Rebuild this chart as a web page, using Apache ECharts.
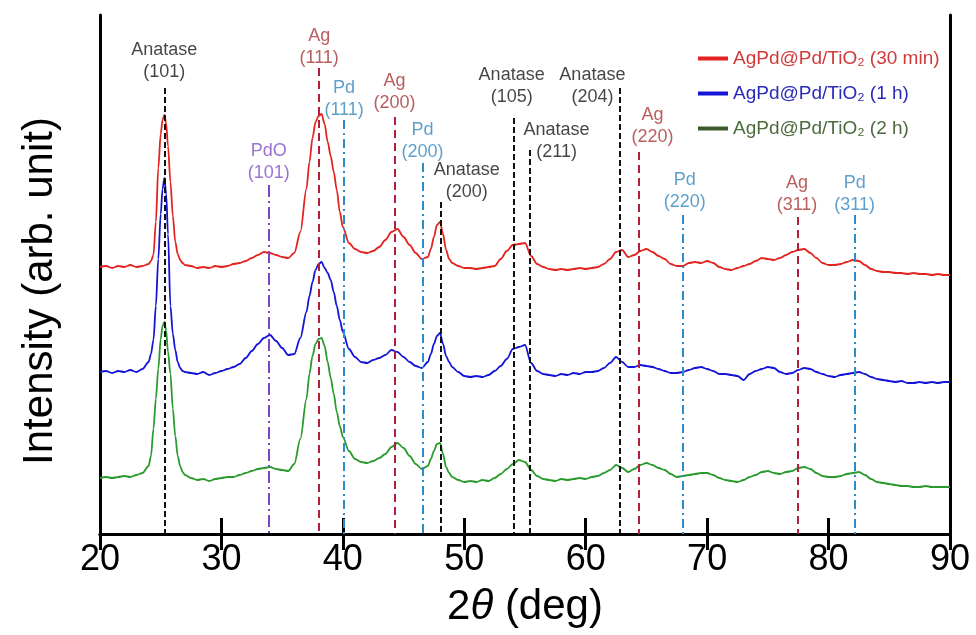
<!DOCTYPE html>
<html>
<head>
<meta charset="utf-8">
<title>XRD</title>
<script src="https://cdn.jsdelivr.net/npm/echarts@6/dist/echarts.min.js"></script>
<style>
  html, body { margin: 0; padding: 0; background: #fff; }
  #main { width: 976px; height: 635px; }
</style>
</head>
<body>
<div id="main"></div>
<script>
// 2theta grid (deg), finer around the big peaks
var twoTheta = [
    20, 20.5, 21, 21.5, 22, 22.5, 23, 23.5, 24,
    24.2, 24.4, 24.6, 24.8, 25, 25.15, 25.3, 25.45, 25.6, 25.8, 26, 26.2, 26.4, 26.6, 26.8,
    27, 27.5, 28, 28.5, 29, 29.5, 30, 30.5, 31, 31.5, 32, 32.5, 33, 33.5, 34, 34.5, 35, 35.5, 36, 36.5,
    37, 37.25, 37.5, 37.75, 38, 38.25, 38.5, 38.75, 39, 39.25, 39.5, 39.75, 40,
    40.5, 41, 41.5, 42, 42.5, 43, 43.5, 44, 44.5, 45, 45.5, 46, 46.5, 47,
    47.25, 47.5, 47.75, 48, 48.25, 48.5, 48.75,
    49, 49.5, 50, 50.5, 51, 51.5, 52, 52.5, 53, 53.5,
    54, 54.5, 55, 55.5, 56, 56.5, 57, 57.5, 58, 58.5,
    59, 59.5, 60, 60.5, 61, 61.5, 62, 62.5, 63, 63.5,
    64, 64.5, 65, 65.5, 66, 66.5, 67, 67.5, 68, 68.5,
    69, 69.5, 70, 70.5, 71, 71.5, 72, 72.5, 73, 73.5,
    74, 74.5, 75, 75.5, 76, 76.5, 77, 77.5, 78, 78.5,
    79, 79.5, 80, 80.5, 81, 81.5, 82, 82.5, 83, 83.5,
    84, 84.5, 85, 85.5, 86, 86.5, 87, 87.5, 88, 88.5,
    89, 89.5, 90
];

// 30 min (offset curve on top)
var int30min = [
    267, 268, 266, 268, 267, 269, 267, 268, 270,
    273, 279, 312, 366, 400, 414, 419, 410, 388, 352, 318, 292, 280, 274, 271,
    269, 268, 266, 267, 266, 268, 267, 268, 270, 271, 273, 276, 279, 282, 281, 279, 277, 276, 281, 302,
    345, 372, 396, 412, 418, 420, 410, 392, 378, 362, 344, 322, 307,
    291, 285, 282, 281, 283, 287, 294, 302, 305, 297, 289, 281, 275, 277,
    285, 297, 309, 312, 300, 284, 275,
    271, 268, 266, 266, 265, 266, 267, 268, 275, 283,
    289, 290, 291, 278, 270, 267, 265, 264, 265, 264,
    265, 266, 265, 266, 267, 270, 275, 282, 284, 277,
    279, 283, 285, 282, 278, 275, 270, 268, 268, 271,
    272, 271, 273, 271, 267, 265, 264, 266, 268, 270,
    273, 276, 275, 274, 276, 279, 282, 284, 285, 281,
    276, 271, 269, 269, 270, 272, 274, 273, 269, 265,
    263, 262, 262, 261, 261, 260, 261, 260, 260, 259,
    260, 259, 259
];

// 1 h
var int1h = [
    162, 163, 161, 163, 162, 164, 162, 165, 172,
    180, 194, 228, 275, 320, 345, 356, 340, 300, 228, 200, 184, 172, 166, 163,
    162, 161, 160, 162, 159, 161, 163, 165, 167, 170, 176, 183, 190, 196, 199, 193, 186, 179, 180, 196,
    222, 238, 252, 264, 270, 272, 266, 261, 254, 242, 228, 214, 202,
    185, 177, 172, 171, 174, 176, 179, 184, 182, 177, 172, 168, 166, 172,
    180, 190, 198, 201, 190, 178, 172,
    167, 162, 158, 157, 158, 157, 159, 163, 168, 175,
    185, 187, 189, 171, 163, 160, 159, 158, 160, 159,
    161, 160, 162, 162, 163, 166, 171, 177, 172, 167,
    167, 169, 168, 167, 165, 163, 161, 161, 162, 164,
    166, 167, 165, 163, 160, 160, 159, 158, 154, 160,
    163, 165, 167, 166, 162, 160, 161, 164, 166, 165,
    162, 160, 158, 157, 159, 160, 161, 162, 160, 157,
    155, 154, 153, 152, 153, 151, 151, 152, 151, 152,
    151, 152, 152
];

// 2 h
var int2h = [
    56, 57, 56, 57, 58, 57, 59, 61, 68,
    78, 105, 135, 165, 195, 208, 212, 203, 182, 160, 125, 98, 78, 68, 62,
    59, 56, 54, 55, 53, 55, 56, 57, 57, 59, 61, 63, 65, 66, 67, 65, 64, 63, 70, 95,
    135, 160, 178, 190, 195, 196, 188, 172, 156, 140, 122, 108, 97,
    83, 75, 72, 71, 73, 76, 80, 87, 91, 86, 78, 70, 65, 68,
    75, 83, 90, 91, 80, 67, 61,
    57, 54, 52, 53, 52, 54, 53, 56, 60, 65,
    70, 74, 72, 64, 58, 55, 54, 53, 55, 54,
    55, 56, 55, 57, 58, 61, 64, 69, 66, 62,
    65, 69, 71, 69, 66, 64, 60, 57, 58, 59,
    60, 61, 61, 59, 56, 54, 53, 52, 54, 57,
    59, 62, 63, 61, 60, 62, 63, 66, 67, 65,
    61, 58, 57, 57, 58, 60, 61, 62, 59, 55,
    52, 51, 50, 49, 48, 48, 47, 47, 48, 47,
    47, 47, 47
];

// reference peaks
var peakPhase = ['Anatase', 'PdO', 'Ag', 'Pd', 'Ag', 'Pd', 'Anatase', 'Anatase', 'Anatase', 'Anatase', 'Ag', 'Pd', 'Ag', 'Pd'];
var peakHkl = ['(101)', '(101)', '(111)', '(111)', '(200)', '(200)', '(200)', '(105)', '(211)', '(204)', '(220)', '(220)', '(311)', '(311)'];
var peakPos = [25.3, 33.9, 38.05, 40.1, 44.25, 46.55, 48.1, 54.1, 55.35, 62.8, 64.4, 68.0, 77.5, 82.15];
var peakTop = [446, 349, 466, 414, 417, 371, 332, 416, 384, 446, 382, 319, 317, 319];

// where each peak label sits (bottom centre of the two-line label)
var labelX = [25.3, 33.9, 38.05, 40.1, 44.25, 46.55, 50.2, 53.9, 57.6, 60.55, 65.5, 68.15, 77.4, 82.15];
var labelY = [451, 350, 465, 413, 420, 371, 331, 426, 371, 426, 386, 321, 318, 318];

var seriesNames = ['AgPd@Pd/TiO₂ (30 min)', 'AgPd@Pd/TiO₂ (1 h)', 'AgPd@Pd/TiO₂ (2 h)'];

var FONT = 'Liberation Sans, Arial, Helvetica, sans-serif';

var phaseStyle = {
    'Anatase': {line: '#111111', text: '#151515', type: [6, 3]},
    'Ag': {line: '#B0203A', text: '#A83434', type: [8, 5]},
    'Pd': {line: '#2E8BC9', text: '#3487BE', type: [9, 4, 2, 4]},
    'PdO': {line: '#7D44C4', text: '#8250C2', type: [12, 4, 2, 4]}
};

function pairs(ys) {
    return twoTheta.map(function (x, i) {
        return [x, ys[i]];
    });
}

var markLines = peakPos.map(function (p, i) {
    var st = phaseStyle[peakPhase[i]];
    return [
        {coord: [p, peakTop[i]], lineStyle: {color: st.line, type: st.type, width: 2}},
        {coord: [p, 0]}
    ];
});

var labelData = labelX.map(function (x, i) {
    return {
        value: [x, labelY[i]],
        name: peakPhase[i] + '\n' + peakHkl[i],
        label: {color: phaseStyle[peakPhase[i]].text}
    };
});

var myChart = echarts.init(document.getElementById('main'));

var option = {
    backgroundColor: '#fff',
    animation: false,
    grid: {
        left: 100,
        right: 26,
        top: 15,
        bottom: 101
    },
    graphic: [
        {
            // y axis title, placed by hand like the original
            type: 'text',
            x: 40,
            y: 291,
            rotation: Math.PI / 2,
            style: {
                text: 'Intensity (arb. unit)',
                fontFamily: FONT,
                fontSize: 42,
                fill: '#000',
                align: 'center',
                verticalAlign: 'middle'
            }
        }
    ],
    legend: {
        orient: 'vertical',
        left: 693,
        top: 44,
        icon: 'rect',
        itemWidth: 30,
        itemHeight: 4,
        itemGap: 16,
        selectedMode: false,
        textStyle: {fontFamily: FONT, fontSize: 19},
        data: [
            {name: seriesNames[0], itemStyle: {color: '#E3231F'}, textStyle: {color: '#D23A3A'}},
            {name: seriesNames[1], itemStyle: {color: '#1414D6'}, textStyle: {color: '#2A2AB8'}},
            {name: seriesNames[2], itemStyle: {color: '#3C5A2C'}, textStyle: {color: '#4C6A3C'}}
        ]
    },
    xAxis: [
        {
            type: 'value',
            position: 'bottom',
            min: 20,
            max: 90,
            interval: 10,
            name: '{n|2}{i|θ}{n| (deg)}',
            nameLocation: 'middle',
            nameGap: 52,
            nameTextStyle: {
                rich: {
                    n: {fontFamily: FONT, fontSize: 42, color: '#000'},
                    i: {fontFamily: FONT, fontSize: 42, color: '#000', fontStyle: 'italic'}
                }
            },
            axisLine: {lineStyle: {color: '#000', width: 3}},
            axisTick: {inside: true, length: 16, lineStyle: {color: '#000', width: 3}},
            axisLabel: {fontFamily: FONT, fontSize: 36, color: '#000', margin: 8},
            splitLine: {show: false}
        },
        {
            type: 'value',
            position: 'top',
            min: 20,
            max: 90,
            interval: 10,
            axisLine: {lineStyle: {color: '#000', width: 3}},
            axisTick: {inside: true, length: 16, lineStyle: {color: '#000', width: 3}},
            axisLabel: {show: false},
            splitLine: {show: false}
        }
    ],
    yAxis: [
        {
            type: 'value',
            position: 'left',
            min: 0,
            max: 519,
            axisLine: {show: true, lineStyle: {color: '#000', width: 3}},
            axisTick: {show: false},
            axisLabel: {show: false},
            splitLine: {show: false}
        },
        {
            type: 'value',
            position: 'right',
            min: 0,
            max: 519,
            axisLine: {show: true, lineStyle: {color: '#000', width: 3}},
            axisTick: {show: false},
            axisLabel: {show: false},
            splitLine: {show: false}
        }
    ],
    series: [
        {
            name: seriesNames[0],
            type: 'line',
            showSymbol: false,
            smooth: 0.3,
            smoothMonotone: 'x',
            data: pairs(int30min),
            lineStyle: {color: '#E3231F', width: 1.8},
            itemStyle: {color: '#E3231F'}
        },
        {
            name: seriesNames[1],
            type: 'line',
            showSymbol: false,
            smooth: 0.3,
            smoothMonotone: 'x',
            data: pairs(int1h),
            lineStyle: {color: '#1414D6', width: 1.8},
            itemStyle: {color: '#1414D6'}
        },
        {
            name: seriesNames[2],
            type: 'line',
            showSymbol: false,
            smooth: 0.3,
            smoothMonotone: 'x',
            data: pairs(int2h),
            lineStyle: {color: '#2A9A2E', width: 1.8},
            itemStyle: {color: '#2A9A2E'}
        },
        {
            name: 'peaks',
            type: 'line',
            data: [],
            z: 5,
            markLine: {
                silent: true,
                symbol: ['none', 'none'],
                label: {show: false},
                data: markLines
            }
        },
        {
            name: 'labels',
            type: 'scatter',
            symbolSize: 0.1,
            silent: true,
            z: 6,
            data: labelData,
            label: {
                show: true,
                position: 'top',
                distance: 0,
                fontFamily: FONT,
                fontSize: 18,
                lineHeight: 22,
                align: 'center',
                formatter: function (p) {
                    return p.name;
                }
            }
        }
    ]
};

myChart.setOption(option);
window.onresize = myChart.resize;
</script>
</body>
</html>
